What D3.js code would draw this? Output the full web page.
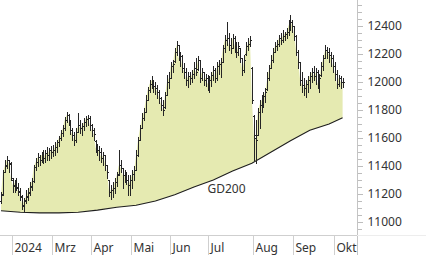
<!DOCTYPE html>
<html><head><meta charset="utf-8">
<script src="https://cdn.jsdelivr.net/npm/d3@7"></script>
<style>body{margin:0;background:#fff}svg{display:block}</style>
</head><body>
<script>
// ---- data (daily OHLC, Jan 24 – Oct 4 2024) ----
const open=[11150,11200,11360,11400,11440,11415,11300,11260,11290,11250,
11220,11180,11115,11150,11180,11210,11250,11295,11390,11430,
11465,11445,11480,11455,11495,11480,11515,11500,11515,11535,
11570,11600,11635,11670,11730,11765,11715,11655,11620,11585,
11645,11695,11670,11685,11715,11735,11745,11695,11655,11580,
11530,11515,11500,11455,11480,11405,11300,11215,11230,11245,
11285,11340,11405,11385,11335,11330,11300,11265,11300,11345,
11370,11480,11585,11670,11745,11785,11870,11945,11985,12015,
11970,11955,11930,11885,11835,11820,11905,12000,12030,12115,
12150,12215,12265,12170,12185,12100,12070,12015,12045,12030,
12055,12100,12090,12155,12030,12070,12015,12030,11985,12015,
12050,12085,12030,12115,12130,12145,12245,12300,12315,12265,
12245,12315,12265,12215,12240,12170,12085,12200,12255,12270,
12100,11760,11600,11620,11785,11835,11870,11900,11950,12030,
12100,12155,12215,12255,12270,12315,12300,12330,12345,12355,
12405,12430,12400,12330,12215,12145,12015,11980,11955,11985,
12015,12045,12070,12045,12070,11985,12050,12115,12170,12230,
12215,12195,12170,12115,12055,11985,12030,12000];
const high=[11215,11370,11445,11470,11445,11430,11315,11300,11315,11280,
11245,11195,11170,11230,11245,11285,11315,11405,11455,11495,
11480,11500,11515,11515,11535,11530,11545,11550,11570,11585,
11615,11655,11695,11750,11785,11770,11730,11670,11645,11670,
11780,11730,11705,11745,11755,11765,11755,11700,11670,11585,
11555,11545,11530,11500,11480,11405,11300,11265,11285,11315,
11355,11515,11445,11385,11370,11355,11335,11335,11370,11400,
11515,11605,11695,11780,11815,11905,11965,12015,12045,12015,
12000,11980,11945,11895,11870,11930,12050,12070,12145,12155,
12245,12295,12265,12215,12195,12135,12100,12070,12070,12085,
12145,12170,12185,12155,12100,12070,12055,12050,12045,12070,
12115,12100,12145,12155,12170,12265,12335,12430,12350,12315,
12345,12330,12285,12285,12245,12170,12195,12285,12315,12330,
12105,11765,11730,11815,11870,11905,11930,11955,12070,12120,
12195,12245,12285,12300,12335,12350,12370,12355,12385,12445,
12480,12445,12400,12335,12230,12145,12070,12030,12015,12045,
12070,12100,12115,12100,12085,12055,12145,12195,12265,12250,
12245,12215,12195,12145,12085,12050,12045,12030];
const low=[11135,11195,11355,11385,11355,11300,11215,11215,11230,11195,
11155,11095,11080,11135,11155,11195,11230,11285,11370,11400,
11405,11430,11420,11430,11445,11445,11455,11470,11480,11500,
11545,11585,11615,11655,11715,11695,11630,11585,11550,11570,
11640,11635,11620,11655,11685,11695,11655,11615,11585,11500,
11480,11445,11430,11405,11370,11315,11185,11165,11180,11205,
11255,11335,11355,11245,11285,11270,11195,11195,11245,11300,
11370,11470,11585,11670,11730,11785,11870,11930,11955,11930,
11915,11885,11850,11800,11765,11815,11905,11955,12030,12070,
12145,12195,12155,12115,12070,12030,11980,11965,11985,12000,
12030,12050,12085,12000,12015,11980,11970,11945,11930,11970,
12015,12000,12015,12055,12035,12145,12215,12265,12230,12205,
12245,12215,12180,12195,12145,12050,12070,12195,12230,12255,
11850,11445,11420,11620,11670,11785,11820,11855,11945,12015,
12100,12145,12215,12230,12255,12270,12285,12300,12315,12335,
12370,12355,12300,12195,12100,11980,11930,11905,11895,11930,
11955,12000,12015,11985,11955,11930,12045,12085,12170,12170,
12145,12115,12070,12015,11955,11970,11955,11965];
const close=[11195,11355,11405,11445,11420,11315,11265,11280,11245,11215,
11185,11120,11155,11185,11215,11255,11295,11395,11430,11465,
11445,11480,11455,11495,11480,11515,11500,11515,11535,11570,
11600,11635,11670,11730,11765,11715,11655,11620,11585,11645,
11695,11670,11685,11715,11735,11745,11695,11655,11630,11530,
11515,11500,11455,11480,11405,11355,11215,11230,11245,11285,
11335,11405,11385,11335,11330,11300,11265,11300,11345,11370,
11480,11585,11670,11745,11785,11870,11945,11985,12015,11970,
11955,11930,11885,11835,11800,11905,12000,12030,12115,12130,
12215,12265,12170,12185,12100,12070,12015,12045,12030,12055,
12100,12070,12155,12030,12070,12015,12030,11985,12015,12050,
12085,12030,12115,12130,12145,12245,12300,12315,12265,12245,
12315,12265,12215,12255,12170,12085,12155,12255,12270,12300,
11870,11620,11585,11785,11835,11870,11900,11930,12030,12100,
12155,12215,12255,12270,12315,12300,12330,12345,12355,12405,
12430,12400,12330,12215,12145,12015,11980,11955,11985,12015,
12045,12070,12045,12070,11985,12030,12115,12170,12230,12215,
12195,12170,12115,12055,11985,12030,12000,12000];
// 200-day moving average, read at every 10th bar
const gdIdx=[0,10,20,30,40,50,60,70,80,90,100,110,120,130,140,150,160,170,177];
const gdVal=[11080,11070,11065,11065,11070,11085,11105,11120,11150,11195,11250,11300,11365,11420,11500,11580,11655,11700,11745];
// month starts (bar index) and labels
const monthStart=[6,27,47,68,88,108,131,152,173];
const monthLabel=["2024","Mrz","Apr","Mai","Jun","Jul","Aug","Sep","Okt"];
const majorTicks=[11000,11200,11400,11600,11800,12000,12200,12400];
const minorTicks=d3.range(10950,12551,50);
const gdLabel="GD200";

// ---- layout ----
const W=426,H=255,axisX=357,axisBottom=235;
const FONT="'Noto Sans', 'Open Sans', sans-serif";
const svg=d3.select("body").append("svg").attr("width",W).attr("height",H);
const x=d3.scaleLinear().domain([0,close.length-1]).range([1,342.6]);
const y=d3.scaleLinear().domain([11000,12400]).range([222,26]);

// fill between close and GD200
const pts=close.map((c,i)=>[x(i),y(c)]).concat(gdIdx.map((g,k)=>[x(g),y(gdVal[k])]).reverse());
svg.append("path").attr("d",d3.line()(pts)+"Z").attr("fill","#e5eab1").attr("stroke","none");

// GD200 line
svg.append("path").attr("d",d3.line()(gdIdx.map((g,k)=>[x(g),y(gdVal[k])])))
  .attr("fill","none").attr("stroke","#1e1e1e").attr("stroke-width",1.1);

// OHLC bars
const px=v=>Math.round(v)+0.5;
svg.append("g").selectAll("path").data(close).join("path")
  .attr("d",(c,i)=>{const xc=px(x(i));const yo=px(y(open[i])),yc=px(y(c));
    return `M${xc},${Math.round(y(high[i]))}V${Math.round(y(low[i]))+1}M${xc-1.5},${yo}H${xc}M${xc},${yc}H${xc+1.5}`;})
  .attr("fill","none").attr("stroke","#262626").attr("stroke-width",1).attr("shape-rendering","crispEdges");

// y axis
const ga=svg.append("g").attr("transform",`translate(${axisX+0.5},0)`);
ga.call(d3.axisRight(y).tickValues(minorTicks).tickSize(4).tickSizeOuter(0).tickFormat(""));
ga.select(".domain").remove();
const gb=svg.append("g").attr("transform",`translate(${axisX+0.5},0)`);
gb.call(d3.axisRight(y).tickValues(majorTicks).tickSize(5).tickSizeOuter(0).tickPadding(5).tickFormat(d3.format("d")));
gb.select(".domain").remove();
svg.selectAll(".tick line").attr("stroke","#bdbdbd").attr("shape-rendering","crispEdges");
gb.selectAll("text").attr("font-family",FONT).attr("font-size",12).attr("fill","#333");
svg.append("line").attr("x1",axisX+0.5).attr("x2",axisX+0.5).attr("y1",0).attr("y2",H)
  .attr("stroke","#c4c4c4").attr("shape-rendering","crispEdges");

// x axis
svg.append("line").attr("x1",0).attr("x2",axisX).attr("y1",axisBottom+0.5).attr("y2",axisBottom+0.5)
  .attr("stroke","#cfcfcf").attr("shape-rendering","crispEdges");
svg.append("line").attr("x1",axisX).attr("x2",W).attr("y1",axisBottom+0.5).attr("y2",axisBottom+0.5)
  .attr("stroke","#ededed").attr("shape-rendering","crispEdges");
const mg=svg.append("g");
monthStart.forEach((m,k)=>{
  const xs=Math.round((x(m-1)+x(m))/2)+0.5;
  mg.append("line").attr("x1",xs).attr("x2",xs).attr("y1",axisBottom).attr("y2",H)
    .attr("stroke","#cfcfcf").attr("shape-rendering","crispEdges");
  mg.append("text").attr("x",xs+2).attr("y",252).text(monthLabel[k])
    .attr("font-family",FONT).attr("font-size",12).attr("fill","#333");
});

// GD200 label
svg.append("text").attr("x",x(107)).attr("y",y(gdVal[11])+13).text(gdLabel)
  .attr("font-family",FONT).attr("font-size",12).attr("fill","#333");
</script>
</body></html>
